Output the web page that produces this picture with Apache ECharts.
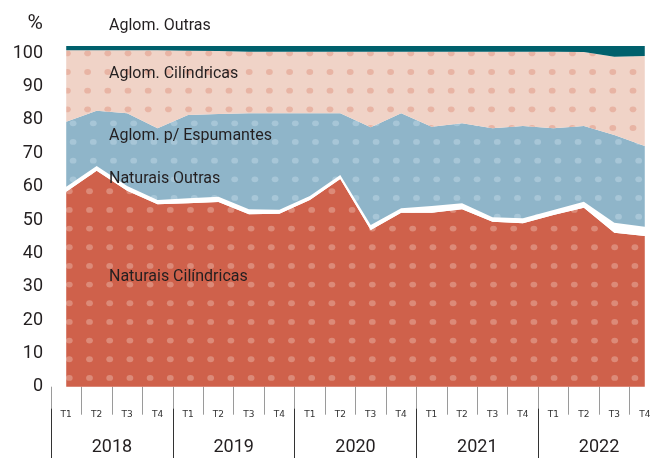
<!DOCTYPE html>
<html>
	<head>
		<meta charset="utf-8" />
		<title>Rolhas - estrutura</title>
		<style>
			body, html { margin: 0; padding: 0; background: #fff; }
		</style>
	</head>
	<body>
		<div id="container" style="width: 653px; height: 458px"></div>
		<script src="https://cdn.jsdelivr.net/npm/echarts@6/dist/echarts.min.js"></script>
		<script>
			var quarters = ['T1', 'T2', 'T3', 'T4', 'T1', 'T2', 'T3', 'T4', 'T1', 'T2', 'T3', 'T4',
				'T1', 'T2', 'T3', 'T4', 'T1', 'T2', 'T3', 'T4'];
			var years = ['2018', '2019', '2020', '2021', '2022'];
			var yTicks = [0, 10, 20, 30, 40, 50, 60, 70, 80, 90, 100];

			var naturaisCilindricas = [58.5, 64.8, 58.8, 54.7, 55.0, 55.4, 51.7, 51.9, 56.0, 62.3, 47.0, 52.2, 52.2, 53.2, 49.5, 49.0, 51.5, 53.7, 46.2, 45.2];
			var naturaisOutras = [1.5, 1.4, 1.4, 1.3, 1.5, 1.6, 1.5, 1.2, 1.2, 1.2, 1.5, 1.3, 2.0, 1.8, 1.3, 1.5, 1.5, 1.8, 3.0, 2.8];
			var aglomEspumantes = [19.5, 16.6, 21.8, 21.5, 25.0, 24.8, 28.8, 28.9, 24.8, 18.5, 29.3, 28.5, 23.8, 24.0, 26.7, 27.7, 24.5, 22.7, 26.3, 24.2];
			var aglomCilindricas = [21.4, 18.1, 18.9, 23.4, 19.3, 18.9, 18.5, 18.5, 18.5, 18.5, 22.7, 18.5, 22.5, 21.5, 23.0, 22.3, 23.0, 22.2, 23.5, 27.0];
			var aglomOutras = [1.3, 1.3, 1.3, 1.3, 1.4, 1.5, 1.7, 1.7, 1.7, 1.7, 1.7, 1.7, 1.7, 1.7, 1.7, 1.7, 1.7, 1.8, 3.2, 3.0];

			var txt = '#231f20';

			// dotted fill tile, 5 x 3 dots so it repeats cleanly
			function dots(bg, dot, ox, oy) {
				var c = document.createElement('canvas');
				c.width = 101;
				c.height = 56;
				var g = c.getContext('2d');
				g.fillStyle = bg;
				g.fillRect(0, 0, c.width, c.height);
				g.fillStyle = dot;
				for (var i = -1; i <= 5; i++) {
					for (var j = -1; j <= 3; j++) {
						g.beginPath();
						g.ellipse(ox + i * 20.2, oy + j * 18.667, 3.4, 2.9, 0, 0, Math.PI * 2);
						g.fill();
					}
				}
				return { image: c, repeat: 'repeat' };
			}

			function layer(name, data, fill) {
				return {
					name: name,
					type: 'line',
					stack: 'total',
					data: data,
					clip: false,
					symbol: 'none',
					lineStyle: { width: 0 },
					areaStyle: { color: fill, opacity: 1 },
					emphasis: { disabled: true }
				};
			}

			function note(text, x, y) {
				return {
					type: 'text',
					z: 100,
					left: x,
					top: y,
					style: {
						text: text,
						fill: txt,
						font: '16px Roboto',
						verticalAlign: 'middle'
					}
				};
			}

			var chart = echarts.init(document.getElementById('container'));
			chart.setOption({
				animation: false,
				backgroundColor: '#fff',
				grid: {
					left: 51,
					right: -7,
					top: 53.3,
					bottom: 71.3,
					outerBoundsMode: 'none'
				},
				xAxis: [{
					type: 'category',
					data: quarters,
					boundaryGap: true,
					position: 'bottom',
					offset: 22,
					axisLine: { show: false },
					axisTick: {
						show: true,
						interval: 0,
						length: 28,
						lineStyle: { color: '#9a9a9a', width: 1 }
					},
					axisLabel: {
						interval: 0,
						margin: 1,
						color: '#333',
						fontFamily: 'DejaVu Sans',
						fontSize: 9
					}
				}, {
					type: 'category',
					data: years,
					boundaryGap: true,
					position: 'bottom',
					offset: 22,
					axisLine: { show: false },
					axisTick: {
						show: true,
						interval: 0,
						length: 52,
						lineStyle: { color: '#333', width: 1 }
					},
					axisLabel: {
						interval: 0,
						margin: 30,
						color: txt,
						fontFamily: 'Roboto',
						fontSize: 18
					}
				}],
				yAxis: {
					type: 'value',
					min: yTicks[0],
					max: yTicks[yTicks.length - 1],
					interval: 10,
					name: '%',
					nameLocation: 'end',
					nameGap: 30,
					nameTextStyle: {
						color: txt,
						fontFamily: 'Roboto',
						fontSize: 21,
						align: 'right',
						verticalAlign: 'middle',
						padding: [0, 8, 0, 0]
					},
					axisLine: { show: false },
					axisTick: { show: false },
					splitLine: { show: false },
					axisLabel: {
						margin: 8,
						color: txt,
						fontFamily: 'Roboto',
						fontSize: 18
					}
				},
				series: [
					layer('Naturais Cilíndricas', naturaisCilindricas, dots('#cf614b', '#dc8a78', 8.7, 4.6)),
					layer('Naturais Outras', naturaisOutras, '#ffffff'),
					layer('Aglom. p/ Espumantes', aglomEspumantes, dots('#8fb5c9', '#a7c6d7', 12.5, 11.3)),
					layer('Aglom. Cilíndricas', aglomCilindricas, dots('#f0d3c7', '#e8b4a4', 6.8, 16.0)),
					layer('Aglom. Outras', aglomOutras, '#00606c')
				],
				graphic: [
					note('Aglom. Outras', 109, 18),
					note('Aglom. Cilíndricas', 109, 66),
					note('Aglom. p/ Espumantes', 109, 128),
					note('Naturais Outras', 109, 171),
					note('Naturais Cilíndricas', 109, 269)
				]
			});
			window.onresize = chart.resize;
		</script>
	</body>
</html>
